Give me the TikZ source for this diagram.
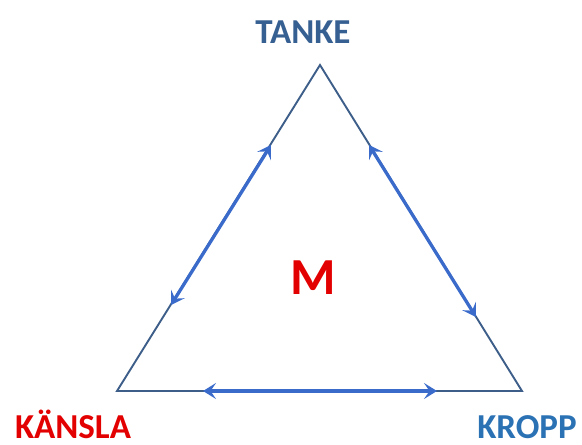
\documentclass[tikz,border=0pt]{standalone}
\usepackage{fontspec}
\setmainfont{Carlito}
\usetikzlibrary{arrows.meta}
\definecolor{outline}{HTML}{3E5E8A}
\definecolor{arrowblue}{HTML}{3A6BCB}
\definecolor{tankeblue}{HTML}{376092}
\definecolor{kroppblue}{HTML}{2A72B4}
\definecolor{mred}{HTML}{E30000}
\tikzset{
  tri/.style={draw=outline, line width=1.9pt, line join=miter},
  biarrow/.style={draw=arrowblue, line width=3.3pt,
     {Stealth[length=13pt,width=16pt,inset=5.5pt]}-{Stealth[length=13pt,width=16pt,inset=5.5pt]}},
  lbl/.style={font=\bfseries\fontsize{35}{40}\selectfont, anchor=base, inner sep=0pt},
}
\begin{document}
\begin{tikzpicture}[x=1pt,y=-1pt]
\useasboundingbox (0,0) rectangle (582,445);
\coordinate (T) at (320,65);
\coordinate (L) at (117,391);
\coordinate (R) at (522,391);
\draw[tri] (T) -- (L) -- (R) -- cycle;
% arrow end points
\coordinate (la) at (171,305);
\coordinate (lb) at (271,145);
\coordinate (ra) at (369,145);
\coordinate (rb) at (476,317);
\coordinate (ba) at (203,391);
\coordinate (bb) at (437,391);
\draw[biarrow] (la) -- (lb);
\draw[biarrow] (ra) -- (rb);
\draw[biarrow] (ba) -- (bb);
\node[lbl, text=tankeblue] (tanke) at (303,43) {TANKE};
\node[lbl, text=mred] (kansla) at (73,438) {KÄNSLA};
\node[lbl, text=kroppblue] (kropp) at (527,438) {KROPP};
\node[lbl, text=mred, font=\bfseries\fontsize{52}{58}\selectfont] (m) at (313,294) {M};
\end{tikzpicture}
\end{document}
